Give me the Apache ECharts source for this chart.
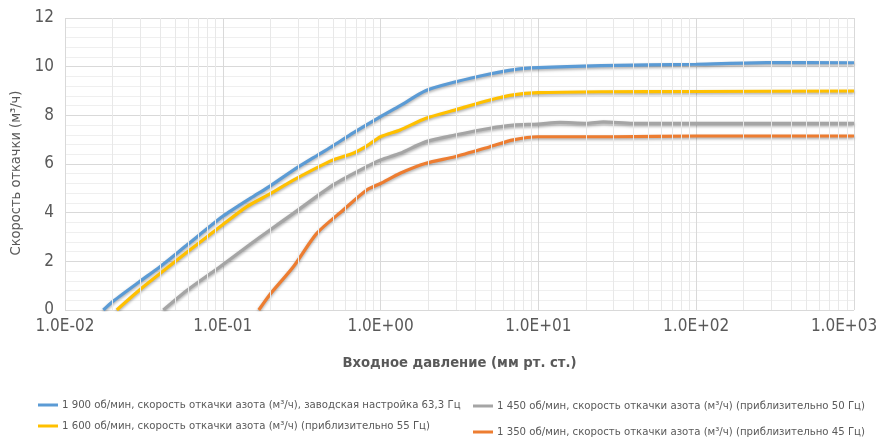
<!DOCTYPE html>
<html>
<head>
<meta charset="utf-8">
<script src="https://cdn.jsdelivr.net/npm/echarts@6/dist/echarts.min.js"></script>
<style>
html,body{margin:0;padding:0;background:#fff;}
#chart{width:876px;height:437px;}
</style>
</head>
<body>
<div id="chart"></div>
<script>
// ---- data ----
const seriesNames = [
  '1 900 об/мин, скорость откачки азота (м³/ч), заводская настройка 63,3 Гц',
  '1 600 об/мин, скорость откачки азота (м³/ч) (приблизительно 55 Гц)',
  '1 450 об/мин, скорость откачки азота (м³/ч) (приблизительно 50 Гц)',
  '1 350 об/мин, скорость откачки азота (м³/ч) (приблизительно 45 Гц)'
];
const p1900 = [0.0175, 0.02, 0.03, 0.04, 0.06, 0.1, 0.15, 0.2, 0.28, 0.4, 0.5, 0.67, 1.0, 1.33, 1.94, 3.0, 4.9, 7, 10, 25, 100, 280, 1000];
const q1900 = [0, 0.34, 1.19, 1.78, 2.7, 3.85, 4.6, 5.1, 5.75, 6.37, 6.75, 7.28, 7.95, 8.4, 9.02, 9.38, 9.7, 9.88, 9.96, 10.04, 10.1, 10.17, 10.16];
const p1600 = [0.0213, 0.03, 0.04, 0.06, 0.096, 0.142, 0.2, 0.28, 0.5, 0.67, 0.8, 1.0, 1.33, 1.94, 2.96, 4.93, 6.93, 9.94, 25, 100, 1000];
const q1600 = [0, 0.85, 1.5, 2.4, 3.42, 4.25, 4.78, 5.34, 6.17, 6.44, 6.7, 7.12, 7.4, 7.88, 8.22, 8.63, 8.84, 8.93, 8.97, 8.98, 9.0];
const p1450 = [0.042, 0.06, 0.096, 0.142, 0.199, 0.28, 0.5, 0.74, 1.0, 1.33, 1.94, 2.96, 4.93, 6.93, 9.94, 13.7, 20.2, 25.8, 39.8, 100, 1000];
const q1450 = [0, 0.83, 1.78, 2.6, 3.29, 3.97, 5.14, 5.75, 6.17, 6.44, 6.92, 7.19, 7.47, 7.6, 7.64, 7.71, 7.67, 7.73, 7.67, 7.67, 7.67];
const p1350 = [0.169, 0.2, 0.28, 0.394, 0.58, 0.817, 1.0, 1.33, 1.94, 2.96, 4.93, 6.93, 9.94, 30, 100, 1000];
const q1350 = [0, 0.66, 1.78, 3.15, 4.11, 4.93, 5.2, 5.62, 6.03, 6.3, 6.71, 6.99, 7.12, 7.12, 7.15, 7.15];
const colors = ['#5B9BD5', '#FFC000', '#A5A5A5', '#ED7D31'];
const yTitle = 'Скорость откачки (м³/ч)';
const xTitle = 'Входное давление (мм рт. ст.)';

function zip(xs, ys) { return xs.map((x, i) => [x, ys[i]]); }
const allData = [zip(p1900, q1900), zip(p1600, q1600), zip(p1450, q1450), zip(p1350, q1350)];

// minor log gridlines at 2..9 in each decade
const minorX = [];
for (let e = -2; e < 3; e++) for (let m = 2; m <= 9; m++) minorX.push({ xAxis: +(m * Math.pow(10, e)).toPrecision(3) });

const FONT = '"DejaVu Sans Condensed", "DejaVu Sans", sans-serif';
const TXT = '#595959';

function fmtE(v) {
  const e = Math.round(Math.log10(v));
  const s = e < 0 ? '-' : '+';
  const a = Math.abs(e);
  const t = '1.0E' + s + (a < 10 ? '0' + a : a);
  return e >= 3 ? '{last|' + t + '}' : t;
}

const chart = echarts.init(document.getElementById('chart'), null, { renderer: 'canvas' });
const lineSeries = allData.map((d, i) => ({
  name: seriesNames[i],
  type: 'line',
  data: d,
  z: 3,
  smooth: 0.25,
  symbol: 'none',
  color: colors[i],
  lineStyle: { width: 3.2, color: colors[i], shadowColor: 'rgba(0,0,0,0.35)', shadowBlur: 3, shadowOffsetY: 1.5 }
}));

// legend placement: [left, centerY]
const legendPos = [[38, 405], [38, 426], [473, 406], [473, 432]];
const legends = seriesNames.map((n, i) => ({
  data: [n], orient: 'horizontal', left: legendPos[i][0], top: legendPos[i][1] - 7, padding: 0,
  icon: 'rect', itemWidth: 20, itemHeight: 3, selectedMode: false,
  textStyle: { fontFamily: FONT, fontSize: 11.3, lineHeight: 14, color: TXT, padding: [0, 0, 0, -1] }
}));

chart.setOption({
  animation: false,
  textStyle: { fontFamily: FONT },
  grid: { left: 65, right: 22, top: 18, bottom: 127, containLabel: false, outerBoundsMode: 'none' },
  xAxis: {
    type: 'log', logBase: 10, min: 0.01, max: 1000,
    name: xTitle, nameLocation: 'middle', nameGap: 46,
    nameTextStyle: { fontFamily: FONT, fontSize: 14.7, fontWeight: 'bold', color: TXT },
    axisLine: { show: false }, axisTick: { show: false },
    axisLabel: {
      formatter: fmtE, fontFamily: FONT, fontSize: 17, color: TXT, margin: 8,
      rich: { last: { fontFamily: FONT, fontSize: 17, color: TXT, padding: [0, 20, 0, 0] } }
    },
    splitLine: { show: true, lineStyle: { color: '#d9d9d9', width: 1 } }
  },
  yAxis: {
    type: 'value', min: 0, max: 12, interval: 2,
    name: yTitle, nameLocation: 'middle', nameGap: 39,
    nameTextStyle: { fontFamily: FONT, fontSize: 14.5, color: TXT, padding: [0, 18, 0, 0] },
    axisLine: { show: false }, axisTick: { show: false },
    axisLabel: { fontFamily: FONT, fontSize: 17, color: TXT, margin: 11 },
    splitLine: { show: true, lineStyle: { color: '#d9d9d9', width: 1 } },
    minorTick: { show: false, splitNumber: 5 },
    minorSplitLine: { show: true, lineStyle: { color: '#efefef', width: 1 } }
  },
  legend: legends,
  series: [
    {
      name: 'minorGrid', type: 'line', data: [], z: 1, silent: true,
      markLine: {
        silent: true, symbol: ['none', 'none'], label: { show: false }, animation: false,
        lineStyle: { color: '#e8e8e8', width: 1, type: 'solid' },
        emphasis: { disabled: true },
        data: minorX
      }
    }
  ].concat(lineSeries)
});
</script>
</body>
</html>
